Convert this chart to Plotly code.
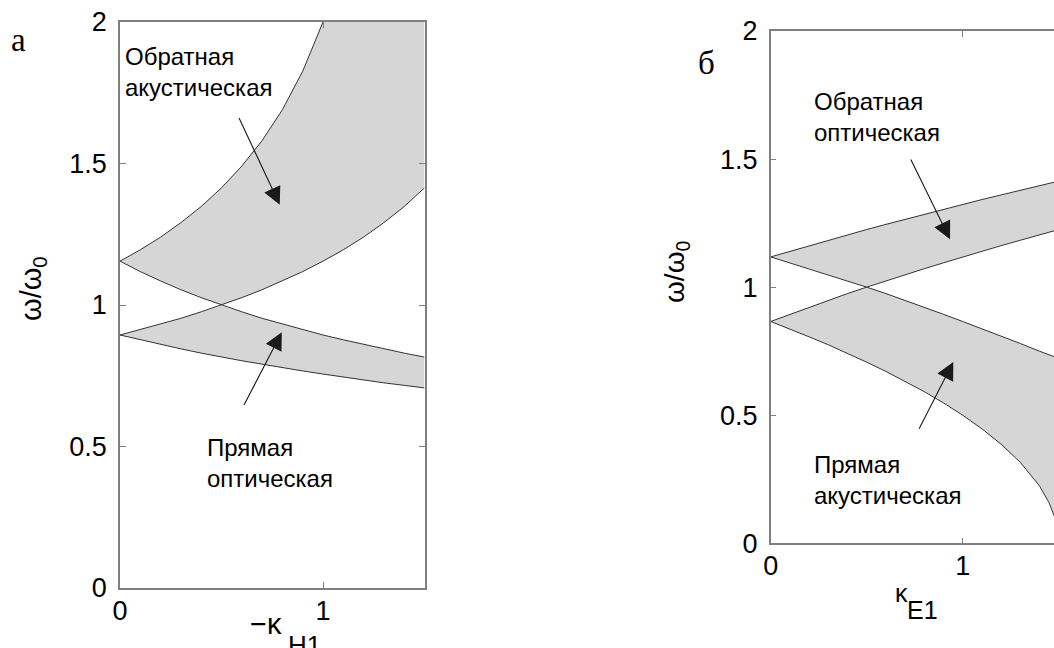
import plotly.graph_objects as go

W, H = 1054, 648

# ---- panel а : dispersion bands versus -κ_H1 ----
k_h = [0.0, 0.1, 0.2, 0.3, 0.4, 0.5, 0.6, 0.7, 0.8, 0.9, 1.0, 1.1, 1.2, 1.3, 1.4, 1.5]
# backward acoustic band: upper edge runs out of the frame at ω/ω0 = 2
a_back_top = [1.155, 1.195, 1.240, 1.291, 1.348, 1.414, 1.491, 1.581, 1.690, 1.826, 2.000]
a_back_bottom = [0.894, 0.913, 0.933, 0.953, 0.976, 1.000, 1.026, 1.054, 1.085, 1.118,
                 1.155, 1.195, 1.240, 1.291, 1.348, 1.414]
# forward optical band
a_fwd_top = [1.155, 1.118, 1.085, 1.054, 1.026, 1.000, 0.976, 0.953, 0.933, 0.913,
             0.894, 0.877, 0.861, 0.845, 0.830, 0.816]
a_fwd_bottom = [0.894, 0.877, 0.861, 0.845, 0.830, 0.816, 0.803, 0.791, 0.778, 0.767,
                0.756, 0.745, 0.735, 0.725, 0.716, 0.707]

# ---- panel б : dispersion bands versus κ_E1 ----
k_e = [0.0, 0.1, 0.2, 0.3, 0.4, 0.5, 0.6, 0.7, 0.8, 0.9, 1.0, 1.1, 1.2, 1.3, 1.4, 1.45, 1.48, 1.5]
# backward optical band
b_back_top = [1.118, 1.140, 1.162, 1.183, 1.204, 1.225, 1.245, 1.265, 1.285, 1.304,
              1.323, 1.342, 1.360, 1.378, 1.396, 1.405, 1.411, 1.414]
b_back_bottom = [0.866, 0.894, 0.922, 0.949, 0.975, 1.000, 1.025, 1.049, 1.072, 1.095,
                 1.118, 1.140, 1.162, 1.183, 1.204, 1.214, 1.221, 1.225]
# forward acoustic band
b_fwd_top = [1.118, 1.095, 1.072, 1.049, 1.025, 1.000, 0.975, 0.949, 0.922, 0.894,
             0.866, 0.838, 0.809, 0.780, 0.750, 0.736, 0.727, 0.722]
b_fwd_bottom = [0.866, 0.837, 0.806, 0.775, 0.742, 0.707, 0.671, 0.632, 0.592, 0.548,
                0.500, 0.447, 0.387, 0.316, 0.224, 0.158, 0.100, 0.000]

y_ticks = [0, 0.5, 1, 1.5, 2]
y_ticktext = ["0", "0.5", "1", "1.5", "2"]
x_ticks = [0, 1]
x_ticktext = ["0", "1"]
Y_TOP = 2.0

FILL = "#d6d6d6"
EDGE = "#333333"
FRAME = "#808080"
SANS = "Liberation Sans, Arial, sans-serif"
SERIF = "Liberation Serif, Times New Roman, serif"


def px(x):
    return x / W


def py(y):
    return 1 - y / H


fig = go.Figure()

# band fills, panel а
i = k_h.index(0.5)
fig.add_trace(go.Scatter(
    x=k_h[:i + 1] + k_h[i:] + [k_h[-1]] + k_h[:len(a_back_top)][::-1],
    y=a_fwd_top[:i + 1] + a_back_bottom[i:] + [Y_TOP] + a_back_top[::-1],
    fill="toself", fillcolor=FILL, mode="none", xaxis="x", yaxis="y"))
fig.add_trace(go.Scatter(
    x=k_h + k_h[i:][::-1] + k_h[:i + 1][::-1],
    y=a_fwd_bottom + a_fwd_top[i:][::-1] + a_back_bottom[:i + 1][::-1],
    fill="toself", fillcolor=FILL, mode="none", xaxis="x", yaxis="y"))

# band fills, panel б
j = k_e.index(0.5)
fig.add_trace(go.Scatter(
    x=k_e[:j + 1] + k_e[j:] + k_e[::-1],
    y=b_fwd_top[:j + 1] + b_back_bottom[j:] + b_back_top[::-1],
    fill="toself", fillcolor=FILL, mode="none", xaxis="x2", yaxis="y2"))
fig.add_trace(go.Scatter(
    x=k_e + k_e[j:][::-1] + k_e[:j + 1][::-1],
    y=b_fwd_bottom + b_fwd_top[j:][::-1] + b_back_bottom[:j + 1][::-1],
    fill="toself", fillcolor=FILL, mode="none", xaxis="x2", yaxis="y2"))

# band edges
for xs, ys in [(k_h[:len(a_back_top)], a_back_top), (k_h, a_back_bottom),
               (k_h, a_fwd_top), (k_h, a_fwd_bottom)]:
    fig.add_trace(go.Scatter(x=xs, y=ys, mode="lines",
                             line=dict(color=EDGE, width=1), xaxis="x", yaxis="y"))
for ys in [b_back_top, b_back_bottom, b_fwd_top, b_fwd_bottom]:
    fig.add_trace(go.Scatter(x=k_e, y=ys, mode="lines",
                             line=dict(color=EDGE, width=1), xaxis="x2", yaxis="y2"))

axis_common = dict(
    showgrid=False, zeroline=False, showline=True, linecolor=FRAME, linewidth=1.5,
    ticks="inside", ticklen=6, tickwidth=1, tickcolor=FRAME,
    tickfont=dict(family=SANS, size=27, color="black"),
    automargin=False, fixedrange=True,
)

fig.update_layout(
    width=W, height=H, margin=dict(l=0, r=0, t=0, b=0),
    paper_bgcolor="white", plot_bgcolor="white", showlegend=False,
    xaxis=dict(axis_common, domain=[px(120), px(424.5)], range=[0, 1.5], ticklabelstandoff=-2,
               tickvals=x_ticks, ticktext=x_ticktext, anchor="y", mirror="ticks"),
    yaxis=dict(axis_common, domain=[py(588), py(22)], range=[0, Y_TOP], ticklabelstandoff=6,
               tickvals=y_ticks, ticktext=y_ticktext, anchor="x", mirror="ticks"),
    xaxis2=dict(axis_common, domain=[px(770.7), 1.0], range=[0, 1.4755], ticklabelstandoff=-2,
                tickvals=x_ticks, ticktext=x_ticktext, anchor="y2", mirror="ticks"),
    yaxis2=dict(axis_common, domain=[py(543.3), py(31)], range=[0, Y_TOP], ticklabelstandoff=6,
                tickvals=y_ticks, ticktext=y_ticktext, anchor="x2", mirror=False),
)


def text_at(x_left, baseline, text, size, family=SANS):
    fig.add_annotation(xref="paper", yref="paper", x=px(x_left - 1), y=py(baseline + 0.212 * size + 1),
                       xanchor="left", yanchor="bottom", text=text, showarrow=False,
                       font=dict(family=family, size=size, color="black"))


def block_at(x_left, cap_top, text, size=24):
    fig.add_annotation(xref="paper", yref="paper", x=px(x_left - 1), y=py(cap_top - 0.189 * size - 1),
                       xanchor="left", yanchor="top", align="left", text=text, showarrow=False,
                       font=dict(family=SANS, size=size, color="black"))


def arrow(xr, yr, tail, head):
    fig.add_annotation(xref=xr, yref=yr, axref=xr, ayref=yr, x=head[0], y=head[1],
                       ax=tail[0], ay=tail[1], text="", showarrow=True,
                       arrowhead=2, arrowsize=3.2, arrowwidth=1.1, arrowcolor="#1a1a1a")


# panel letters
text_at(10, 52, "а", 33, SERIF)
text_at(697, 75, "б", 33, SERIF)

# axis titles
fig.add_annotation(xref="paper", yref="paper", x=px(33), y=py(289), textangle=-90,
                   xanchor="center", yanchor="middle", text="ω/ω<sub>0</sub>", showarrow=False,
                   font=dict(family=SANS, size=29, color="black"))
fig.add_annotation(xref="paper", yref="paper", x=px(676), y=py(272), textangle=-90,
                   xanchor="center", yanchor="middle", text="ω/ω<sub>0</sub>", showarrow=False,
                   font=dict(family=SANS, size=28, color="black"))
text_at(249, 635, "−κ", 29)
text_at(287, 655, "H1", 26)
text_at(894, 603, "κ", 25)
text_at(906, 620, "E1", 25)

# band names
block_at(124, 47, "Обратная<br>акустическая")
block_at(206, 438, "Прямая<br>оптическая")
block_at(813, 92, "Обратная<br>оптическая")
block_at(813, 455, "Прямая<br>акустическая")

arrow("x", "y", (0.583, 1.666), (0.787, 1.354))
arrow("x", "y", (0.607, 0.641), (0.797, 0.904))
arrow("x2", "y2", (0.726, 1.504), (0.934, 1.187))
arrow("x2", "y2", (0.769, 0.441), (0.951, 0.708))

fig.write_html("out.html")
